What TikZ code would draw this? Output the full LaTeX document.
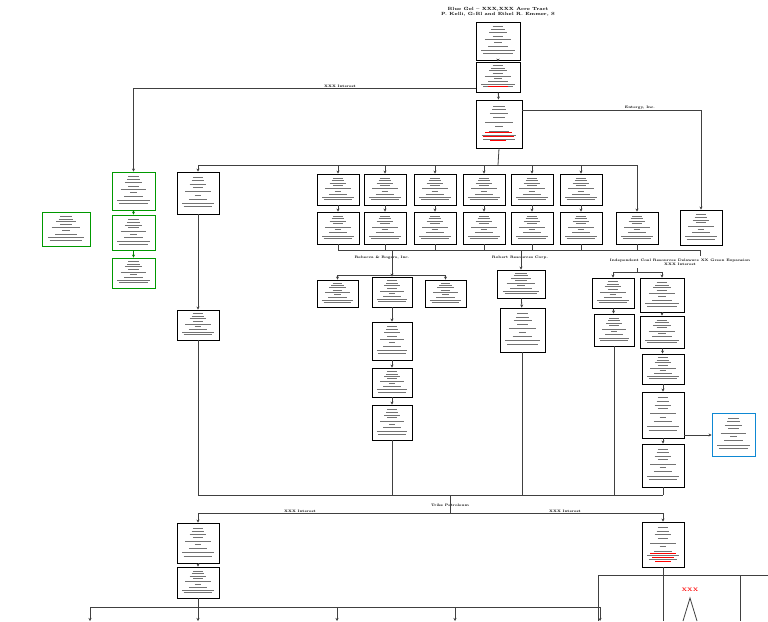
\documentclass[tikz,border=0pt]{standalone}
\usetikzlibrary{arrows.meta}
\begin{document}
\begin{tikzpicture}[x=1pt,y=-1pt,
 bx/.style={draw,line width=0.9pt,fill=white,inner sep=0pt},
 ln/.style={line width=0.8pt,draw=black!75},
 ar/.style={ln,-{Stealth[length=3pt,width=3pt]}},
 lab/.style={font=\fontsize{3.5}{4}\selectfont\bfseries,inner sep=0.5pt},
 tl/.style={line width=0.35pt,draw=black!55}]
\useasboundingbox (0,0) rectangle (768,621);
\newcommand\bx[6]{%
 \pgfmathsetmacro\xa{#2}\pgfmathsetmacro\xb{#4}%
 \node[bx,draw=#6,minimum width={(\xb-\xa)*1pt},minimum height={((#5)-(#3))*1pt}] (#1) at ({(\xa+\xb)/2},{((#3)+(#5))/2}) {};
 \foreach \f/\w in {0.12/0.12,0.2/0.15,0.28/0.2,0.36/0.12,0.46/0.3,0.54/0.08,0.64/0.22,0.74/0.38,0.82/0.34}{
  \draw[tl] ({(\xa+\xb)/2-(\xb-\xa)*\w},{(#3)+((#5)-(#3))*\f}) -- ({(\xa+\xb)/2+(\xb-\xa)*\w},{(#3)+((#5)-(#3))*\f});}}
% title
\node[lab,font=\fontsize{4.5}{5}\selectfont\bfseries,align=center] (title) at (498,12) {Blue Gel -- XXX,XXX Acre Tract\\P. Kelli, G-Bl and Ethel R. Emmer, S};
% spine
\bx{t1}{476}{22}{520}{60}{black}
\bx{t2}{476}{62}{520}{92}{black}
\bx{t3}{476}{100}{522}{148}{black}
\draw[red,line width=0.4pt] (485,132)--(512,132) (483,136)--(514,136) (490,140)--(506,140) (488,86)--(508,86);
\draw[ar] (t1)--(t2); \draw[ar] (t2)--(t3);
% left branch
\bx{g1}{112}{172}{155}{210}{green!60!black}
\bx{g2}{112}{215}{155}{250}{green!60!black}
\bx{g3}{112}{258}{155}{288}{green!60!black}
\bx{g4}{42}{212}{90}{246}{green!60!black}
\draw[ar] (t2.west|-0,88) -| (g1.north);
\node[lab,above] at (340,88) {XXX Interest};
\draw[ar,draw=green!50!black] (g1)--(g2); \draw[ar,draw=green!50!black] (g2)--(g3);
% right branch
\bx{rr}{680}{210}{722}{245}{black}
\draw[ar] (t3.east|-0,110) -| (rr.north);
\node[lab,above] at (640,110) {Entergy, Inc.};
% row
\coordinate (b1) at (498,165);
\draw[ln] (t3.south)--(b1);
\bx{c0}{177}{172}{219}{214}{black}
\foreach \n/\x in {c1/338,c2/385,c3/435,c4/484,c5/532,c6/581}{\bx{\n}{\x-21}{174}{\x+21}{205}{black}}
\foreach \n/\x in {d1/338,d2/385,d3/435,d4/484,d5/532,d6/581,d7/637}{\bx{\n}{\x-21}{212}{\x+21}{244}{black}}
\draw[ln] (c0.north|-b1) -- (d7.north|-b1);
\foreach \n in {c0,c1,c2,c3,c4,c5,c6}{\draw[ar] (\n.north|-b1)--(\n.north);}
\draw[ar] (d7.north|-b1)--(d7.north);
\foreach \i in {1,...,6}{\draw[ar] (c\i)--(d\i);}
\coordinate (b2) at (500,250);
\draw[ln] (d1.south|-b2) -- (d7.south|-b2);
\foreach \i in {1,...,7}{\draw[ln] (d\i.south)--(d\i.south|-b2);}
% Rebecca
\node[lab] (lr) at (382,258) {Rebecca \& Rogers, Inc.};
\bx{e1}{317}{280}{358}{307}{black}
\bx{e2}{372}{277}{412}{307}{black}
\bx{e3}{425}{280}{466}{307}{black}
\bx{e4}{372}{322}{412}{360}{black}
\bx{e5}{372}{368}{412}{397}{black}
\bx{e6}{372}{405}{412}{440}{black}
\draw[ln] (e2.north|-b2)--(e2.north|-0,275);
\draw[ln] (e1.north|-0,275)--(e3.north|-0,275);
\foreach \n in {e1,e2,e3}{\draw[ar] (\n.north|-0,275)--(\n.north);}
\draw[ar] (e2)--(e4); \draw[ar] (e4)--(e5); \draw[ar] (e5)--(e6);
% Robert
\node[lab] (lb) at (520,258) {Robert Resources Corp.};
\bx{f1}{497}{270}{545}{298}{black}
\bx{f2}{500}{308}{545}{352}{black}
\draw[ar] (f1.north|-b2)--(f1.north); \draw[ar] (f1)--(f2);
% Independent
\node[lab,align=center] (li) at (680,262) {Independent Coal Resources Delaware XX Green Expansion\\XXX Interest};
\bx{h1}{592}{278}{634}{308}{black}
\bx{h2}{640}{278}{684}{312}{black}
\bx{h3}{594}{314}{634}{346}{black}
\bx{h4}{640}{316}{684}{348}{black}
\bx{h5}{642}{354}{684}{384}{black}
\bx{h6}{642}{392}{684}{438}{black}
\bx{h7}{642}{444}{684}{487}{black}
\bx{cy}{712}{413}{755}{456}{cyan!70!blue}
\draw[ln] (d7.south|-b2)--(700,250)--(700,256);
\draw[ln] (613,272)--(662,272) (637,268)--(637,272);
\draw[ar] (613,272)--(h1.north); \draw[ar] (662,272)--(h2.north);
\draw[ar] (h1)--(h3); \draw[ar] (h2)--(h4); \draw[ar] (h4)--(h5); \draw[ar] (h5)--(h6); \draw[ar] (h6)--(h7);
\draw[ar] (h6.east|-0,435)--(cy.west|-0,435);
% left column
\bx{k1}{177}{310}{219}{340}{black}
\draw[ar] (c0)--(k1);
\coordinate (b3) at (450,495);
\draw[ln] (k1.south)--(k1.south|-b3);
\draw[ln] (k1.south|-b3)--(h7.south|-b3);
\draw[ln] (e6.south)--(e6.south|-b3) (f2.south)--(f2.south|-b3) (h3.south)--(h3.south|-b3) (h7.south)--(h7.south|-b3);
% Trike
\node[lab] (tp) at (450,505) {Trike Petroleum};
\coordinate (b4) at (450,513);
\draw[ln] (b3)--(b4);
\bx{m1}{177}{523}{219}{563}{black}
\bx{m2}{177}{567}{219}{598}{black}
\bx{m3}{642}{522}{684}{567}{black}
\draw[red,line width=0.4pt] (650,553)--(676,553) (652,557)--(674,557) (655,561)--(671,561);
\draw[ln] (m1.north|-b4)--(m3.north|-b4);
\draw[ar] (m1.north|-b4)--(m1.north); \draw[ar] (m3.north|-b4)--(m3.north);
\node[lab,above] at (300,513) {XXX Interest};
\node[lab,above] at (565,513) {XXX Interest};
\draw[ar] (m1)--(m2);
% bottom
\draw[ln] (m2.south)--(m2.south|-0,607);
\draw[ln] (90,607)--(600,607);
\foreach \x in {90,198,337,455,600}{\draw[ar] (\x,607)--(\x,621);}
\draw[ln] (m3.south)--(663,575);
\draw[ln] (598,621)--(598,575)--(768,575);
\draw[ln] (663,575)--(663,621) (740,575)--(740,621);
\node[font=\fontsize{5}{5}\selectfont\bfseries,text=red] (xx) at (690,590) {XXX};
\draw[ln] (683,621)--(690,598)--(697,621);
\end{tikzpicture}
\end{document}
